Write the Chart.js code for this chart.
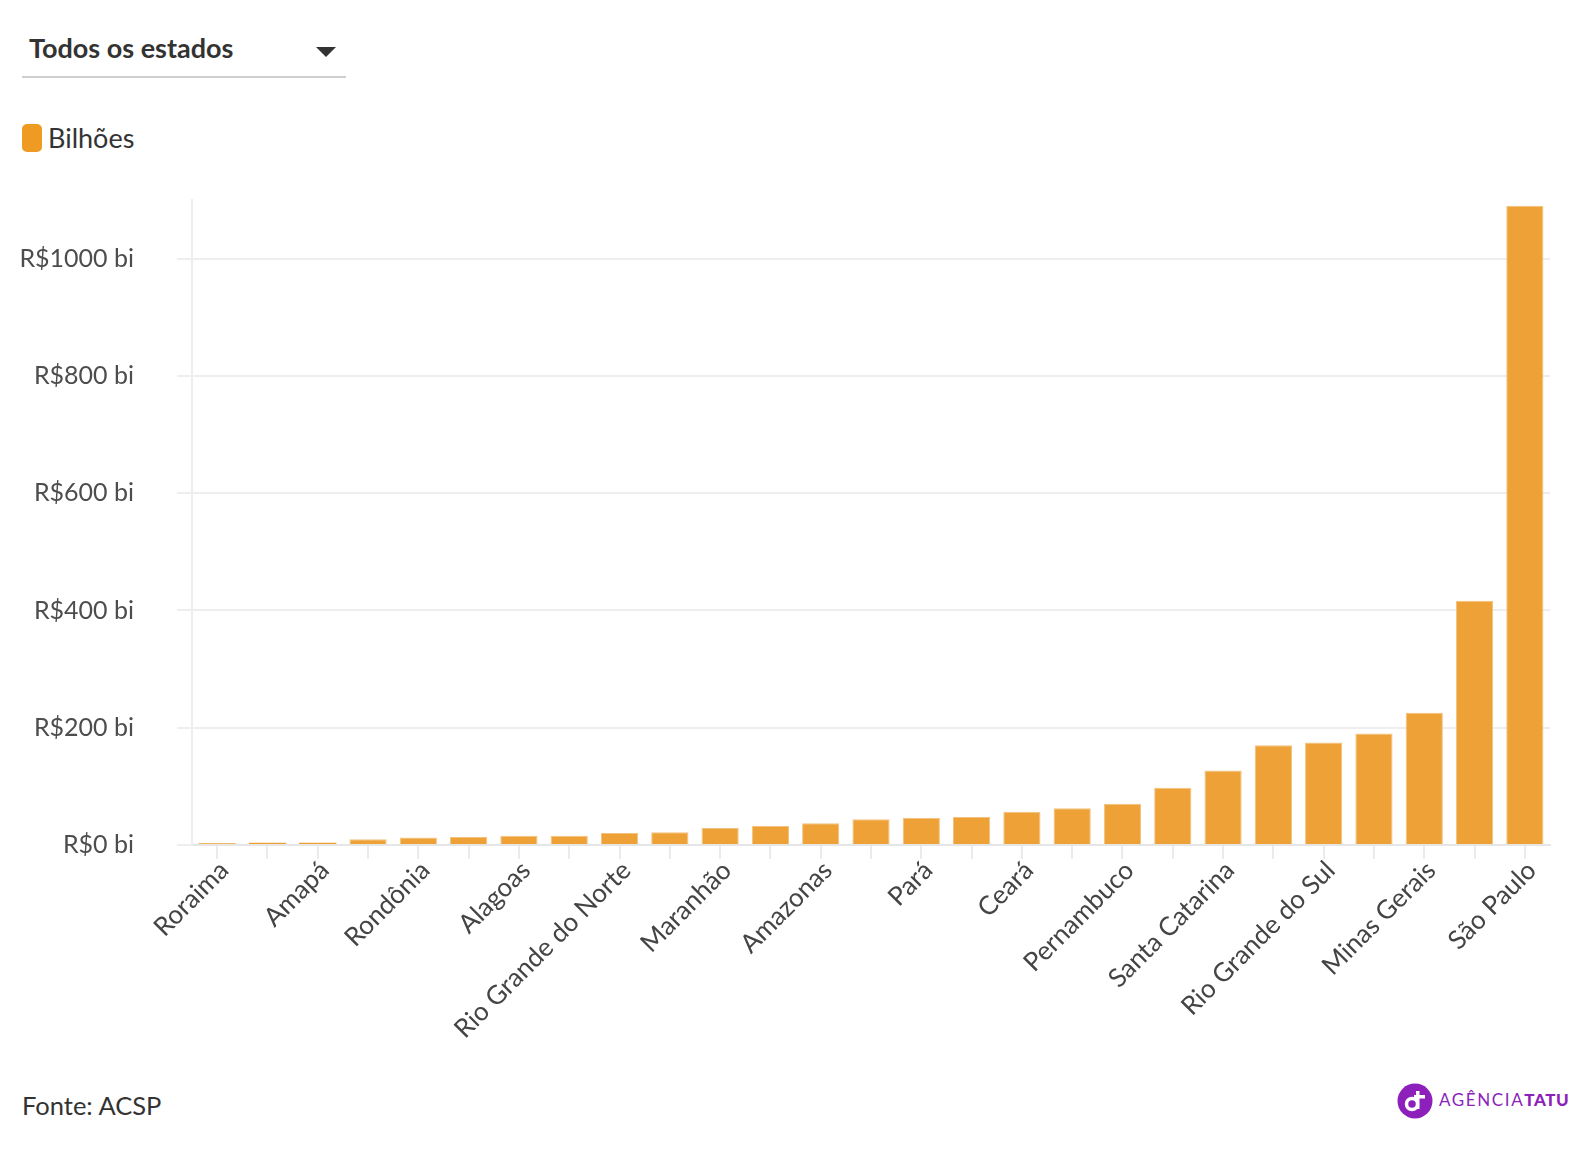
<!DOCTYPE html>
<html>
<head>
<meta charset="utf-8">
<script src="https://cdn.jsdelivr.net/npm/chart.js@4.4.0/dist/chart.umd.min.js"></script>
<style>
  html, body { margin: 0; padding: 0; background: #fff; }
  body { width: 1592px; height: 1150px; position: relative; overflow: hidden; font-family: Lato, "Open Sans", sans-serif; color: #333; }
  .dropdown { position: absolute; left: 22px; top: 30px; width: 324px; height: 46px; border-bottom: 2px solid #cfcfcf; }
  .dropdown span { position: absolute; left: 7px; top: 0; font-weight: bold; font-size: 27px; line-height: 36px; color: #333; }
  .dropdown i { position: absolute; left: 294px; top: 17px; width: 0; height: 0; border-left: 10px solid transparent; border-right: 10px solid transparent; border-top: 10px solid #333; }
  .legend { position: absolute; left: 22px; top: 120px; height: 36px; }
  .legend b { position: absolute; left: 0; top: 4px; width: 20px; height: 28px; border-radius: 5px; background: #ef9a23; }
  .legend span { position: absolute; left: 26px; top: 0; font-size: 27px; line-height: 36px; color: #333; white-space: nowrap; }
  #wrap { position: absolute; left: 0; top: 170px; width: 1592px; height: 890px; }
  .source { position: absolute; left: 22px; top: 1088px; font-size: 25.5px; line-height: 34px; color: #333; }
  .logo { position: absolute; left: 1397px; top: 1083px; height: 36px; }
  .logo svg { position: absolute; left: 0; top: 0; }
  .logo span { position: absolute; left: 42px; top: 6px; font-size: 17px; line-height: 22px; letter-spacing: 1.6px; color: #8d1fbb; white-space: nowrap; }
  .logo span strong { font-weight: 900; letter-spacing: 0.6px; }
</style>
</head>
<body>
<div class="dropdown"><span>Todos os estados</span><i></i></div>
<div class="legend"><b></b><span>Bilhões</span></div>
<div id="wrap"><canvas id="chart"></canvas></div>
<div class="source">Fonte: ACSP</div>
<div class="logo">
  <svg width="36" height="36" viewBox="0 0 36 36">
    <circle cx="18" cy="18" r="17.5" fill="#8d1fbb"/>
    <circle cx="15" cy="21" r="5.5" fill="none" stroke="#fff" stroke-width="3.5"/>
    <rect x="19" y="8" width="3.5" height="18" fill="#fff"/>
    <rect x="17" y="12" width="11" height="3.5" fill="#fff"/>
  </svg>
  <span>AGÊNCIA<strong>TATU</strong></span>
</div>
<script>
var states = ["Roraima", "Acre", "Amapá", "Tocantins", "Rondônia", "Sergipe", "Alagoas", "Piauí",
  "Rio Grande do Norte", "Paraíba", "Maranhão", "Mato Grosso do Sul", "Amazonas", "Espírito Santo",
  "Pará", "Goiás", "Ceará", "Mato Grosso", "Pernambuco", "Bahia", "Santa Catarina", "Distrito Federal",
  "Rio Grande do Sul", "Paraná", "Minas Gerais", "Rio de Janeiro", "São Paulo"];
var bilhoes = [2.8, 4, 4, 9.7, 13, 13.6, 15.9, 15.9, 20.5, 21.6, 29, 32.4, 36.9, 43.8,
  46, 47.7, 56.8, 62.5, 70.5, 97.7, 127, 170, 175, 190, 225.6, 416.5, 1090];
var yTicks = [0, 200, 400, 600, 800, 1000];

var canvasTop = 170, canvasHeight = 890;
var plotTop = 200, plotBottom = 845, plotLeft = 192;

new Chart(document.getElementById('chart'), {
  type: 'bar',
  data: {
    labels: states,
    datasets: [{
      label: 'Bilhões',
      data: bilhoes,
      backgroundColor: '#eda136',
      borderColor: '#f3c27c',
      borderWidth: function(ctx) { return ctx.raw < 8 ? 0 : 1; },
      barPercentage: 0.74,
      categoryPercentage: 1
    }]
  },
  options: {
    responsive: true,
    maintainAspectRatio: false,
    animation: false,
    layout: { padding: { top: plotTop - canvasTop, right: 42, bottom: 0, left: 0 } },
    plugins: { legend: { display: false }, tooltip: { enabled: false } },
    scales: {
      x: {
        grid: { offset: false, drawOnChartArea: false, drawTicks: true, tickLength: 14, color: '#ebebeb', lineWidth: 2 },
        border: { color: '#e6e6e6', width: 2 },
        ticks: {
          autoSkip: false,
          maxRotation: 45,
          minRotation: 45,
          padding: -4,
          labelOffset: 7,
          color: '#444',
          font: { family: 'Lato', size: 26 },
          callback: function(v, i) { return i % 2 === 0 ? states[i] : ''; }
        },
        afterFit: function(scale) { scale.height = canvasHeight - (plotBottom - canvasTop); }
      },
      y: {
        min: 0,
        max: 1100,
        afterBuildTicks: function(scale) { scale.ticks = yTicks.map(function(v) { return { value: v }; }); },
        grid: { color: '#eeeeee', lineWidth: 2, tickLength: 15 },
        border: { color: '#eeeeee', width: 2 },
        ticks: {
          padding: 43,
          color: '#4d4d4d',
          font: { family: 'Lato', size: 25 },
          callback: function(v) { return 'R$' + v + ' bi'; }
        },
        afterFit: function(scale) {
          scale.width = plotLeft;
          scale.paddingTop = 0;
          scale.paddingBottom = 0;
        }
      }
    }
  }
});
</script>
</body>
</html>
